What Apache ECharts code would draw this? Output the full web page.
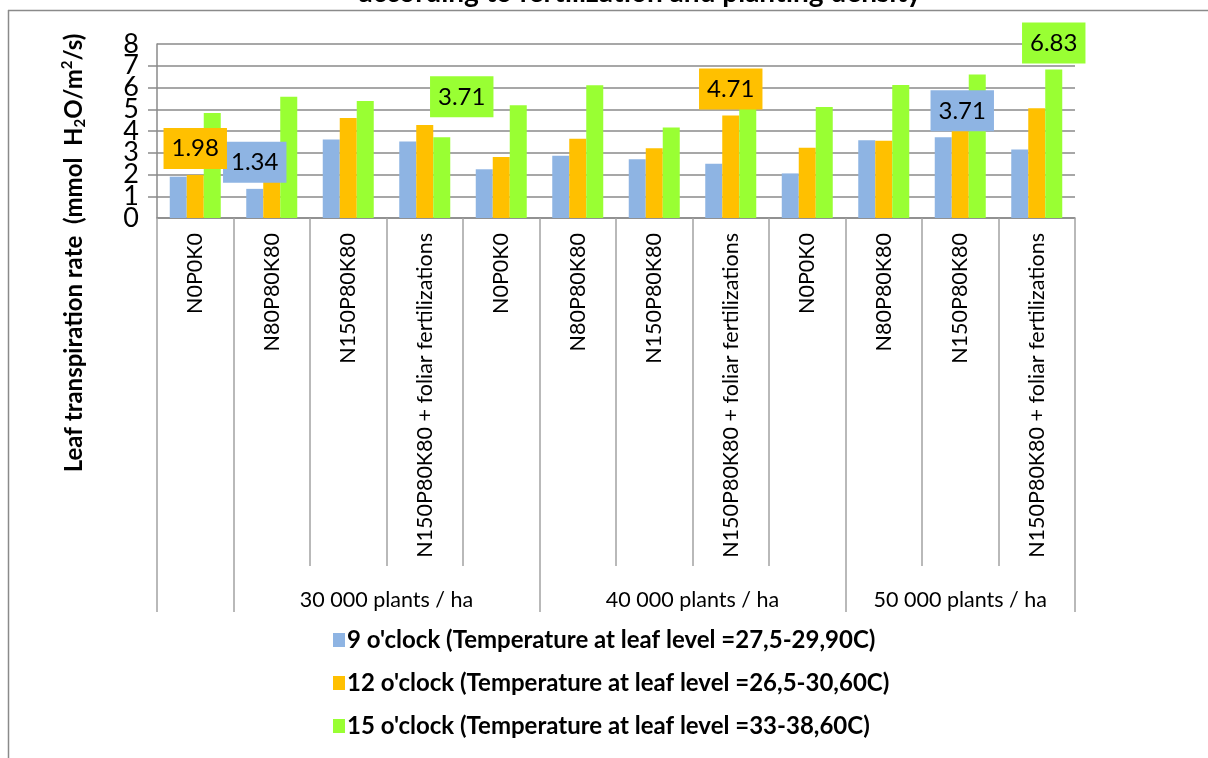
<!DOCTYPE html>
<html>
<head>
<meta charset="utf-8">
<script src="https://cdn.jsdelivr.net/npm/echarts@6/dist/echarts.min.js"></script>
<style>
html,body{margin:0;padding:0;background:#fff;}
#chart{width:1208px;height:758px;}
</style>
</head>
<body>
<div id="chart"></div>
<script>
// ---- data ----
const categories = [
  'N0P0K0', 'N80P80K80', 'N150P80K80', 'N150P80K80 + foliar fertilizations',
  'N0P0K0', 'N80P80K80', 'N150P80K80', 'N150P80K80 + foliar fertilizations',
  'N0P0K0', 'N80P80K80', 'N150P80K80', 'N150P80K80 + foliar fertilizations'
];
const groupLabels = ['30 000 plants / ha', '40 000 plants / ha', '50 000 plants / ha'];
const groupStarts = [1, 5, 9];   // first category index of each group
const groupEnds = [5, 9, 12];    // category index after the last of each group
const seriesNames = [
  "9 o'clock (Temperature at leaf level =27,5-29,90C)",
  "12 o'clock (Temperature at leaf level =26,5-30,60C)",
  "15 o'clock (Temperature at leaf level =33-38,60C)"
];
const values9h  = [1.90, 1.34, 3.61, 3.52, 2.24, 2.86, 2.70, 2.49, 2.05, 3.58, 3.71, 3.15];
const values12h = [1.98, 2.10, 4.60, 4.28, 2.81, 3.64, 3.21, 4.71, 3.23, 3.55, 4.20, 5.05];
const values15h = [4.83, 5.57, 5.38, 3.71, 5.18, 6.10, 4.16, 5.10, 5.10, 6.11, 6.60, 6.83];
const labelled9h  = [1, 10];
const labelled12h = [0, 7];
const labelled15h = [3, 11];
const yTicks = { min: 0, max: 8, interval: 1 };
const titleText = 'according to fertilization and planting density';

// ---- styling ----
const FONT = 'Lato, "Noto Sans", sans-serif';
const colors = ['#8EB4E3', '#FFC000', '#99FF33'];
const gridLeft = 157, gridTop = 44, gridWidth = 918, gridHeight = 174;
const labelOffsets = { '0-10': [19, 0], '2-3': [20, -14] };
const yLabelStyle = { fontSize: 27, color: '#000', margin: 18, fontFamily: FONT };

function buildData(vals, labelled, si) {
  return vals.map((v, i) => {
    if (labelled.indexOf(i) < 0) return v;
    return {
      value: v,
      label: {
        show: true,
        position: 'top',
        distance: 6,
        offset: labelOffsets[si + '-' + i] || [0, 0],
        backgroundColor: colors[si],
        padding: [8, 8, 8, 8],
        fontSize: 24,
        lineHeight: 25,
        fontFamily: FONT,
        color: '#000'
      }
    };
  });
}

// half-slot axis for the group row (25 points on boundaries/centres)
const halfSlots = [];
for (let k = 0; k <= categories.length * 2; k++) halfSlots.push('');
const boundaryHalf = [0];
groupStarts.forEach((s, g) => {
  boundaryHalf.push(s * 2, groupEnds[g] * 2);
  halfSlots[groupStarts[g] + groupEnds[g]] = groupLabels[g];
});

const chart = echarts.init(document.getElementById('chart'), null, { renderer: 'canvas' });
const option = {
  animation: false,
  backgroundColor: '#fff',
  color: colors,
  textStyle: { fontFamily: FONT },
  grid: { left: gridLeft, top: gridTop, width: gridWidth, height: gridHeight, containLabel: false },
  legend: {
    orient: 'vertical',
    left: 328,
    top: 623,
    itemWidth: 12,
    itemHeight: 14,
    itemGap: 19,
    icon: 'rect',
    textStyle: { fontSize: 24, fontWeight: 'bold', color: '#000', fontFamily: FONT, padding: [0, 0, 0, -3] },
    data: seriesNames
  },
  xAxis: [
    {
      type: 'category',
      data: categories,
      position: 'bottom',
      axisLine: { show: true, lineStyle: { color: '#8a8a8a', width: 1.5 } },
      axisTick: { show: true, interval: 0, length: 348, lineStyle: { color: '#a3a3a3', width: 1.5 } },
      axisLabel: { interval: 0, rotate: 90, margin: 15, fontSize: 21.5, color: '#000', fontFamily: FONT },
      splitLine: { show: false }
    },
    {
      type: 'category',
      data: halfSlots,
      boundaryGap: false,
      position: 'bottom',
      axisLine: { show: false },
      axisTick: {
        show: true,
        length: 394,
        interval: function (idx) { return boundaryHalf.indexOf(idx) >= 0; },
        lineStyle: { color: '#a3a3a3', width: 1.5 }
      },
      axisLabel: { interval: 0, margin: 371, fontSize: 21.5, color: '#000', fontFamily: FONT },
      splitLine: { show: false }
    }
  ],
  yAxis: [
    {
      type: 'value',
      min: yTicks.min,
      max: yTicks.max,
      interval: yTicks.interval,
      axisLine: { show: true, lineStyle: { color: '#8a8a8a', width: 1.5 } },
      axisTick: { show: true, length: 9, lineStyle: { color: '#8a8a8a', width: 1.5 } },
      axisLabel: Object.assign({ showMinLabel: false, showMaxLabel: false }, yLabelStyle),
      splitLine: { show: true, lineStyle: { color: '#8a8a8a', width: 1.5 } }
    },
    {
      // carries only the end labels (0 and 8), which the first axis drops as overlapping
      type: 'value',
      position: 'left',
      min: yTicks.min,
      max: yTicks.max,
      interval: yTicks.max - yTicks.min,
      axisLine: { show: false },
      axisTick: { show: false },
      axisLabel: yLabelStyle,
      splitLine: { show: false }
    }
  ],
  series: [
    { name: seriesNames[0], type: 'bar', xAxisIndex: 0, yAxisIndex: 0, barWidth: 17, barGap: '0%', data: buildData(values9h, labelled9h, 0) },
    { name: seriesNames[1], type: 'bar', xAxisIndex: 0, yAxisIndex: 0, barWidth: 17, barGap: '0%', data: buildData(values12h, labelled12h, 1) },
    { name: seriesNames[2], type: 'bar', xAxisIndex: 0, yAxisIndex: 0, barWidth: 17, barGap: '0%', data: buildData(values15h, labelled15h, 2) }
  ],
  graphic: [
    { type: 'line', shape: { x1: 8, y1: 10.5, x2: 1208, y2: 10.5 }, style: { stroke: '#8a8a8a', lineWidth: 1.5 }, silent: true },
    { type: 'line', shape: { x1: 8.5, y1: 10, x2: 8.5, y2: 758 }, style: { stroke: '#8a8a8a', lineWidth: 1.5 }, silent: true },
    {
      type: 'text', x: 640, y: -7, silent: true, z: 10,
      style: { text: titleText, align: 'center', verticalAlign: 'middle', font: 'bold 28px ' + FONT, fill: '#000' }
    },
    {
      type: 'text', x: 74, y: 253, rotation: Math.PI / 2, silent: true,
      style: {
        text: '{m|Leaf transpiration rate  (mmol  H}{s|2}{m|O/m}{p|2}{m|/s)}',
        align: 'center', verticalAlign: 'middle',
        rich: {
          m: { fontSize: 24, fontWeight: 'bold', fontFamily: FONT, fill: '#000', lineHeight: 28 },
          s: { fontSize: 15, fontWeight: 'bold', fontFamily: FONT, fill: '#000', lineHeight: 14, verticalAlign: 'bottom' },
          p: { fontSize: 15, fontWeight: 'bold', fontFamily: FONT, fill: '#000', lineHeight: 14, verticalAlign: 'top' }
        }
      }
    }
  ]
};
chart.setOption(option);
</script>
</body>
</html>
